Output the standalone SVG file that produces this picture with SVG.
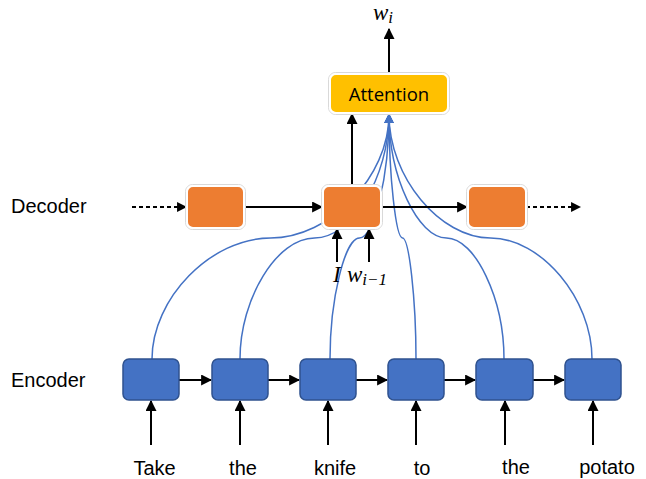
<svg xmlns="http://www.w3.org/2000/svg" width="646" height="479" viewBox="0 0 646 479">
<style>
.lbl{font-family:"Liberation Sans",Arial,sans-serif;font-size:20px;fill:#000}
.math{font-family:"Liberation Serif","DejaVu Serif",serif;font-style:italic;font-size:23px;fill:#000}
.sub{font-family:"Liberation Serif","DejaVu Serif",serif;font-style:italic;font-size:17px;fill:#000}
.ar{stroke:#000;stroke-width:2;fill:none;marker-end:url(#ah)}
.dash{stroke:#000;stroke-width:1.8;fill:none;stroke-dasharray:4 3;marker-end:url(#ah)}
.bl{stroke:#4472C4;stroke-width:1.5;fill:none;marker-end:url(#bh)}
.enc{fill:#4472C4;stroke:#2F528F;stroke-width:1.5}
.dec{fill:#ED7D31;stroke:#fff;stroke-width:2}
.att{fill:#FFC000;stroke:#fff;stroke-width:2}
.halo{fill:none;stroke:#d9d9d9;stroke-width:1}
</style>
<defs>
<marker id="ah" viewBox="0 0 10 10" refX="9" refY="5" markerWidth="5.5" markerHeight="5.5" orient="auto" markerUnits="strokeWidth"><path d="M0,0 L10,5 L0,10 z" fill="#000"/></marker>
<marker id="bh" viewBox="0 0 10 10" refX="9" refY="5" markerWidth="6.5" markerHeight="6.5" orient="auto" markerUnits="strokeWidth"><path d="M0,0 L10,5 L0,10 z" fill="#4472C4"/></marker>
</defs>
<rect width="646" height="479" fill="#fff"/>
<text class="lbl" x="11" y="213">Decoder</text>
<text class="lbl" x="11" y="387">Encoder</text>
<g id="connectors">
<path class="bl" d="M152,359 C152,298.5 211,238 270.5,238 C330,238 389,177 389,114.5"/>
<path class="bl" d="M240,359 C240,298.5 277,238 314.5,238 C352,238 389,177 389,114.5"/>
<path class="bl" d="M330,359 C330,298.5 345,238 359.5,238 C374,238 389,177 389,114.5"/>
<path class="bl" d="M416,359 C416,298.5 409,238 402.5,238 C396,238 389,177 389,114.5"/>
<path class="bl" d="M504,359 C504,298.5 475,238 446.5,238 C418,238 389,177 389,114.5"/>
<path class="bl" d="M592,359 C592,298.5 541,238 490.5,238 C440,238 389,177 389,114.5"/>
<line class="ar" x1="389" y1="74" x2="389" y2="29"/>
<line class="ar" x1="352" y1="186" x2="352" y2="114"/>
<line class="dash" x1="132" y1="207" x2="186" y2="207"/>
<line class="ar" x1="244" y1="207" x2="322" y2="207"/>
<line class="ar" x1="381" y1="207" x2="467" y2="207"/>
<line class="dash" x1="526" y1="207" x2="580" y2="207"/>
<line class="ar" x1="337" y1="262" x2="337" y2="229"/>
<line class="ar" x1="369" y1="262" x2="369" y2="229"/>
<line class="ar" x1="179" y1="380" x2="211" y2="380"/>
<line class="ar" x1="268" y1="380" x2="299" y2="380"/>
<line class="ar" x1="356" y1="380" x2="387" y2="380"/>
<line class="ar" x1="444" y1="380" x2="475" y2="380"/>
<line class="ar" x1="533" y1="380" x2="564" y2="380"/>
<line class="ar" x1="151" y1="445" x2="151" y2="401"/>
<line class="ar" x1="240" y1="445" x2="240" y2="401"/>
<line class="ar" x1="328" y1="445" x2="328" y2="401"/>
<line class="ar" x1="416" y1="445" x2="416" y2="401"/>
<line class="ar" x1="505" y1="445" x2="505" y2="401"/>
<line class="ar" x1="593" y1="445" x2="593" y2="401"/>
</g>
<g id="attention">
<rect class="halo" x="328.5" y="72.5" width="121" height="42" rx="7"/>
<rect class="att" x="330" y="74" width="118" height="39" rx="6"/>
<text x="389" y="101" text-anchor="middle" style="font-family:'Open Sans','Noto Sans',sans-serif;font-size:18.5px;fill:#000">Attention</text>
</g>
<g id="dec1"><rect class="halo" x="185.5" y="184.5" width="60" height="45" rx="7"/><rect class="dec" x="187" y="186" width="57" height="42" rx="6"/></g>
<g id="dec2"><rect class="halo" x="321.5" y="184.5" width="61" height="45" rx="7"/><rect class="dec" x="323" y="186" width="58" height="42" rx="6"/></g>
<g id="dec3"><rect class="halo" x="466.5" y="184.5" width="61" height="45" rx="7"/><rect class="dec" x="468" y="186" width="58" height="42" rx="6"/></g>
<g id="enc1"><rect class="enc" x="123" y="359" width="56" height="41" rx="6"/></g>
<g id="enc2"><rect class="enc" x="212" y="359" width="56" height="41" rx="6"/></g>
<g id="enc3"><rect class="enc" x="300" y="359" width="56" height="41" rx="6"/></g>
<g id="enc4"><rect class="enc" x="388" y="359" width="56" height="41" rx="6"/></g>
<g id="enc5"><rect class="enc" x="476" y="359" width="57" height="41" rx="6"/></g>
<g id="enc6"><rect class="enc" x="565" y="359" width="56" height="41" rx="6"/></g>
<g id="labels">
<text class="math" x="373" y="20">w<tspan class="sub" dy="3">i</tspan></text>
<text class="math" x="333" y="282">I</text>
<text class="math" x="347" y="282">w<tspan class="sub" dy="3">i−1</tspan></text>
<text class="lbl" x="154.5" y="475" text-anchor="middle">Take</text>
<text class="lbl" x="243" y="475" text-anchor="middle">the</text>
<text class="lbl" x="335" y="475" text-anchor="middle">knife</text>
<text class="lbl" x="422" y="475" text-anchor="middle">to</text>
<text class="lbl" x="516" y="474" text-anchor="middle">the</text>
<text class="lbl" x="607" y="474" text-anchor="middle">potato</text>
</g>
</svg>
